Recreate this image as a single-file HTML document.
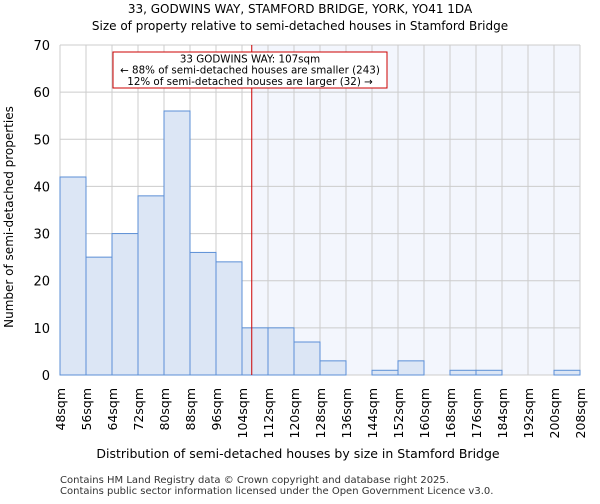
<!DOCTYPE html>
<html><head><meta charset="utf-8"><style>
body{margin:0;background:#fff;font-family:"DejaVu Sans","Liberation Sans",sans-serif;}
</style></head><body>
<svg id="chart" width="600" height="500" xmlns="http://www.w3.org/2000/svg" font-family="DejaVu Sans, Liberation Sans, sans-serif">
<text x="300" y="13" text-anchor="middle" font-size="12">33, GODWINS WAY, STAMFORD BRIDGE, YORK, YO41 1DA</text>
<text x="300" y="30" text-anchor="middle" font-size="12">Size of property relative to semi-detached houses in Stamford Bridge</text>
<g id="plot"></g>
<text transform="translate(13,217) rotate(-90)" text-anchor="middle" font-size="12">Number of semi-detached properties</text>
<text x="298" y="458" text-anchor="middle" font-size="12.5">Distribution of semi-detached houses by size in Stamford Bridge</text>
<text x="60" y="483" font-size="10" fill="#333">Contains HM Land Registry data © Crown copyright and database right 2025.</text>
<text x="60" y="494" font-size="10" fill="#333">Contains public sector information licensed under the Open Government Licence v3.0.</text>
</svg>
<script>
const binEdges=[48,56,64,72,80,88,96,104,112,120,128,136,144,152,160,168,176,184,192,200,208];
const counts=[42,25,30,38,56,26,24,10,10,7,3,0,1,3,0,1,1,0,0,1];
const yTicks=[0,10,20,30,40,50,60,70];
const propertySize=107;
const annotation=["33 GODWINS WAY: 107sqm","← 88% of semi-detached houses are smaller (243)","12% of semi-detached houses are larger (32) →"];
const NS="http://www.w3.org/2000/svg";
const L=60,R=580,T=45,B=375;
const xs=v=>L+(v-48)/(208-48)*(R-L);
const ys=v=>B-v/70*(B-T);
const g=document.getElementById('plot');
function mk(t,a){const e=document.createElementNS(NS,t);for(const k in a)e.setAttribute(k,a[k]);g.appendChild(e);return e;}
let e=mk('rect',{x:xs(propertySize),y:T,width:R-xs(propertySize),height:B-T,fill:'#f3f6fd'});


yTicks.forEach(v=>{const l=mk('line',{x1:L,x2:R,y1:ys(v),y2:ys(v),stroke:'#ccc','stroke-width':1});


const t=mk('text',{x:L-10,y:ys(v)+5,'text-anchor':'end','font-size':13});t.textContent=v;

});
binEdges.forEach(v=>{const l=mk('line',{x1:xs(v),x2:xs(v),y1:T,y2:B,stroke:'#ccc','stroke-width':1});


const t=mk('text',{transform:`translate(${xs(v)+5},388) rotate(-90)`,'text-anchor':'end','font-size':12.5});t.textContent=v+'sqm';

});
counts.forEach((c,i)=>{if(c<=0)return;const x0=xs(binEdges[i]),x1=xs(binEdges[i+1]);
const r=mk('rect',{x:x0,y:ys(c),width:x1-x0,height:B-ys(c),fill:'#dce6f5',stroke:'#5b8fd6','stroke-width':1});

});
e=mk('line',{x1:xs(propertySize),x2:xs(propertySize),y1:T,y2:B,stroke:'#cc0000','stroke-width':1});


e=mk('rect',{x:113,y:52,width:274,height:36,fill:'#fff',stroke:'#cc0000','stroke-width':1});


annotation.forEach((s,i)=>{const t=mk('text',{x:250,y:62.5+i*11.2,'text-anchor':'middle','font-size':10.3});t.textContent=s;

});
</script>
</body></html>
